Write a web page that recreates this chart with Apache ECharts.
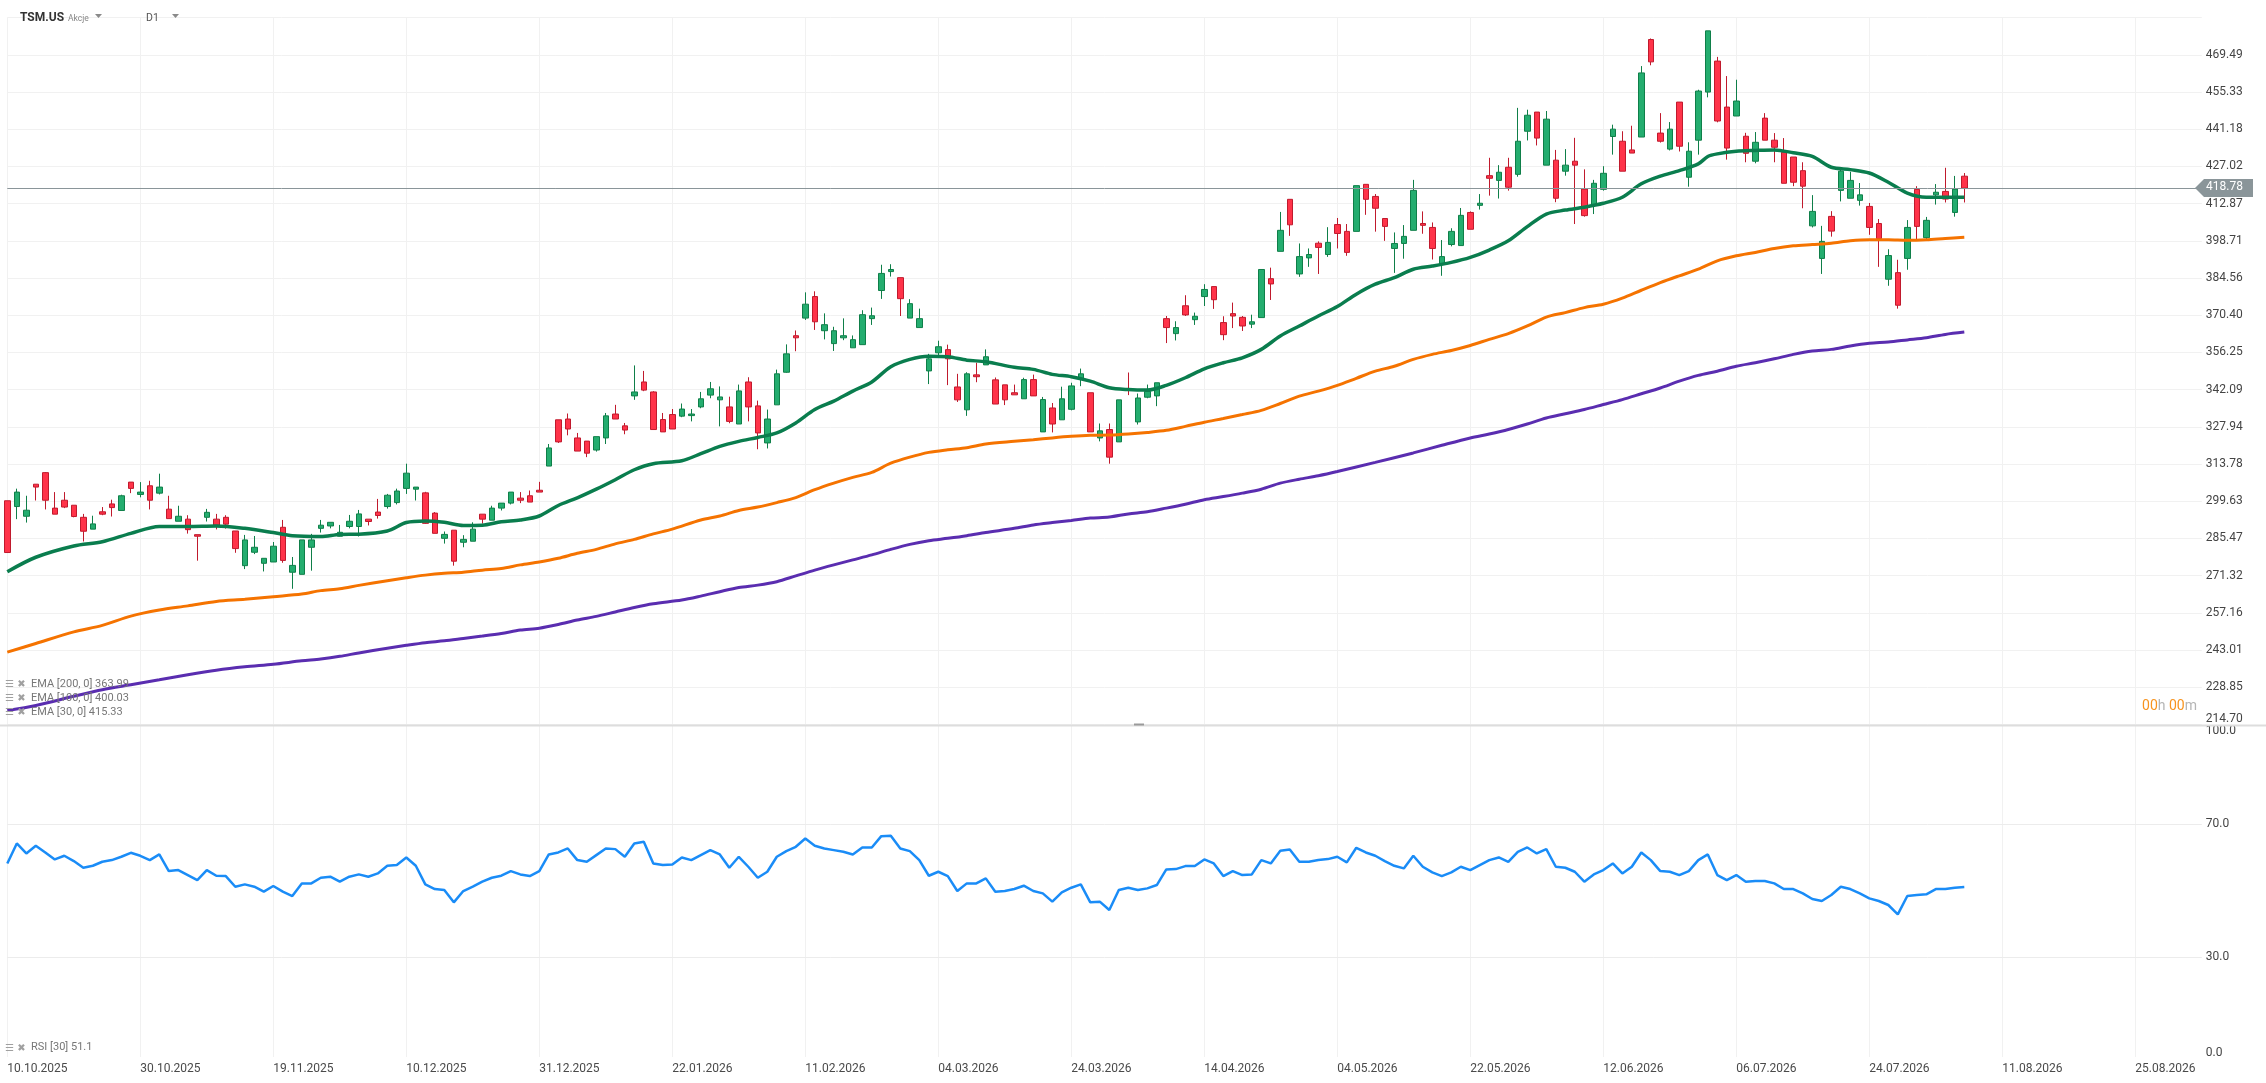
<!DOCTYPE html>
<html>
<head>
<meta charset="utf-8">
<script src="https://cdn.jsdelivr.net/npm/echarts@6/dist/echarts.min.js"></script>
<style>
  html, body { margin: 0; padding: 0; background: #fff; }
  #main { width: 2266px; height: 1083px; }
</style>
</head>
<body>
<div id="main"></div>
<script>
// date labels, one every 14 trading slots
var tickLabels = ['10.10.2025','30.10.2025','19.11.2025','10.12.2025','31.12.2025','22.01.2026','11.02.2026',
  '04.03.2026','24.03.2026','14.04.2026','04.05.2026','22.05.2026','12.06.2026','06.07.2026','24.07.2026',
  '11.08.2026','25.08.2026'];
var priceTicks = ['214.70','228.85','243.01','257.16','271.32','285.47','299.63','313.78','327.94','342.09',
  '356.25','370.40','384.56','398.71','412.87','427.02','441.18','455.33','469.49'];
var rsiLevels = [0, 30, 70, 100];
var rsiLabels = ['0.0', '30.0', '70.0', '100.0'];

var opens = [299.8,297.6,293.9,306.1,310.5,297.0,300.0,298.1,293.5,289.0,295.6,298.6,296.1,306.9,302.2,305.5,302.7,296.6,292.0,292.8,
  286.9,293.5,292.8,293.5,288.3,275.1,280.2,276.0,276.5,289.7,272.6,271.8,282.1,289.3,290.2,286.3,290.0,290.0,292.8,295.5,
  297.6,299.1,304.5,304.2,302.8,295.1,285.5,288.6,284.0,284.4,294.7,292.4,297.0,298.9,300.8,301.7,303.8,313.0,330.6,330.9,
  323.7,322.5,319.1,323.7,332.8,328.3,339.7,345.0,341.2,330.7,332.6,332.0,332.2,335.5,340.0,338.2,335.5,329.0,345.0,335.9,
  321.8,336.3,348.7,362.6,369.3,377.5,364.5,359.6,361.8,358.0,359.2,369.1,379.8,387.0,384.7,369.3,365.7,349.2,356.1,357.3,
  343.1,334.4,347.7,351.5,345.8,343.9,340.9,338.6,345.9,326.0,335.1,330.6,334.6,346.3,340.9,323.7,326.9,322.2,342.4,329.8,
  339.2,339.7,369.1,363.4,374.0,368.7,377.5,381.3,367.6,371.0,369.6,367.0,369.5,384.3,394.7,414.5,386.1,392.2,397.8,393.5,
  404.9,402.3,402.3,420.2,415.6,407.2,395.8,397.7,402.7,405.3,403.8,389.8,397.3,396.9,409.5,412.2,423.5,421.7,426.7,424.0,
  440.4,447.7,427.5,429.4,425.2,429.0,418.4,412.3,418.3,438.4,436.6,433.3,438.2,475.3,439.7,433.6,451.5,422.9,437.0,455.3,
  467.1,449.6,446.2,438.5,429.0,445.4,437.0,432.4,430.6,425.4,404.4,392.0,408.0,417.9,414.9,414.1,411.8,405.3,384.1,386.6,
  392.0,418.3,399.9,416.2,417.5,409.5,423.3];
var closes = [280.1,303.1,296.2,305.0,300.0,294.7,297.4,293.8,288.2,291.0,294.7,297.2,301.7,304.5,303.1,300.0,305.0,293.0,293.9,288.8,
  286.3,295.4,290.5,290.9,281.6,284.9,282.1,277.9,282.5,277.1,275.2,284.9,284.9,290.5,291.6,287.8,292.0,294.8,291.9,294.2,
  301.9,303.5,310.3,305.0,291.2,287.4,287.0,276.8,285.1,289.0,292.8,297.0,298.9,303.1,300.0,299.3,303.1,319.9,322.2,327.1,
  318.7,317.9,324.2,332.1,330.9,326.7,341.2,341.9,326.9,326.0,327.1,334.7,332.8,338.6,342.4,339.3,330.0,341.6,335.5,325.6,
  330.9,348.1,355.7,361.8,374.6,367.9,366.8,364.5,362.6,361.1,370.6,370.2,386.3,387.8,376.7,374.8,369.1,353.8,358.4,353.8,
  338.2,348.1,347.0,354.6,336.6,338.2,340.1,345.9,339.7,338.3,329.0,338.6,343.5,348.1,326.0,326.4,316.4,338.2,341.9,338.9,
  341.4,344.7,365.7,365.7,370.5,370.0,380.2,376.3,363.0,370.1,366.3,367.9,387.8,382.3,402.7,404.8,392.7,393.5,396.2,398.1,
  401.5,394.3,419.7,414.5,411.1,404.2,397.7,400.4,417.9,404.6,395.8,392.7,402.3,408.4,403.1,413.0,422.5,424.8,419.1,436.6,
  446.5,437.8,445.0,414.9,427.5,427.5,408.3,420.6,424.4,441.2,425.2,432.1,462.6,466.8,436.6,441.2,434.7,432.8,455.7,478.6,
  444.3,434.0,451.9,432.0,436.2,437.0,434.3,420.6,421.0,419.5,409.9,398.5,402.4,425.2,421.7,416.2,403.8,399.5,393.1,374.2,
  403.8,404.2,406.5,417.2,414.6,418.4,418.78];
var lows = [280.1,292.8,291.5,299.9,296.5,294.7,297.0,293.5,284.3,289.0,294.3,293.8,296.1,302.7,301.1,296.5,302.2,293.0,292.0,287.3,
  277.0,291.9,288.9,289.2,280.0,273.8,279.5,272.9,276.5,276.2,266.3,271.8,273.2,287.7,289.3,286.2,289.3,286.2,290.4,293.0,
  296.8,298.4,302.4,299.9,291.0,287.4,283.5,275.1,282.1,284.4,291.1,292.4,296.1,298.4,298.9,299.3,303.1,313.0,321.8,324.7,
  318.7,316.4,318.5,321.4,330.9,325.1,338.2,341.5,326.9,326.0,327.1,331.6,330.0,335.0,338.8,328.1,329.3,329.0,330.0,319.4,
  319.7,336.3,348.5,356.7,368.6,364.8,361.2,356.8,360.9,358.0,359.2,366.7,376.6,385.1,370.1,369.3,365.7,344.2,354.8,343.8,
  337.4,332.1,344.9,351.5,336.6,336.2,340.1,338.6,339.7,326.0,325.8,330.6,334.2,343.4,326.0,322.4,313.9,322.2,340.0,328.8,
  338.8,335.8,359.8,360.8,370.1,366.7,373.9,372.8,360.9,365.5,364.4,365.5,369.5,376.2,394.7,400.6,385.0,388.8,386.1,392.6,
  395.8,393.0,402.3,408.6,402.2,398.7,386.5,391.9,402.7,401.4,391.6,385.4,396.6,396.9,403.1,410.6,415.9,414.8,417.8,423.1,
  436.9,435.0,427.5,413.4,423.5,405.1,407.9,408.9,417.8,431.5,425.2,432.1,438.2,465.5,436.1,433.1,432.7,419.3,431.5,453.3,
  443.8,429.6,446.2,428.6,428.2,437.0,428.6,420.6,419.5,411.1,403.8,386.1,400.3,413.7,414.9,412.1,401.0,388.8,381.6,372.9,
  387.7,399.1,399.1,412.5,413.3,407.9,413.3];
var highs = [299.8,304.4,301.7,306.1,310.7,303.1,303.1,298.1,294.8,294.1,297.4,300.2,302.1,306.9,306.9,307.4,310.1,301.7,297.9,294.3,
  286.9,296.7,294.8,294.3,288.3,286.8,286.4,277.9,284.1,292.5,278.4,284.9,287.2,292.5,291.6,290.6,294.4,296.3,292.8,300.5,
  302.4,304.4,313.9,305.0,303.2,295.5,288.1,288.6,286.7,291.6,294.7,297.9,298.9,303.1,303.1,303.7,307.0,321.4,330.6,333.0,
  325.6,322.5,324.2,333.2,336.3,329.4,351.3,349.2,341.5,333.2,334.7,336.8,334.7,341.2,345.0,343.3,339.4,344.0,346.8,337.9,
  334.5,349.7,359.3,364.6,379.1,379.5,371.1,366.0,369.2,362.7,372.3,373.3,389.6,389.8,384.7,376.5,372.9,355.7,360.7,359.2,
  348.1,348.7,352.3,357.4,346.7,343.9,344.0,346.6,347.8,339.3,337.0,343.2,344.7,350.1,340.9,329.2,329.2,338.2,348.6,340.6,
  344.0,344.7,370.1,368.1,378.0,371.4,382.2,381.3,370.0,375.2,370.1,370.6,387.8,388.5,409.7,414.5,397.7,395.8,398.5,403.9,
  407.4,405.1,419.7,420.2,416.5,407.2,401.9,404.7,421.9,409.9,405.7,399.0,403.5,411.2,409.9,416.5,430.3,427.5,430.3,449.3,
  448.6,447.7,448.1,433.3,433.6,437.9,425.9,421.9,427.1,442.9,440.4,442.5,465.2,475.7,447.3,443.9,451.5,436.2,456.2,478.6,
  468.7,461.4,460.0,439.8,440.1,447.3,439.7,437.8,430.6,428.6,416.1,404.4,410.0,425.7,425.0,420.7,413.1,407.0,395.5,391.5,
  406.6,419.5,407.8,420.3,426.5,423.4,424.5];

// EMA values read at [slot, value]
var ema30 = [[0,272.8],[3,278.3],[7,282.6],[10,284.2],[13,287.4],[16,290.0],[19,290.0],[22,290.2],[25,289.3],[28,287.7],
  [30,286.5],[33,286.2],[35,287.0],[37,287.1],[40,288.3],[42,291.5],[44,292.1],[46,291.6],[48,290.4],[50,290.5],
  [52,291.8],[54,292.5],[56,294.0],[58,298.0],[60,300.9],[62,304.2],[64,307.8],[66,311.6],[68,313.9],[71,315.0],
  [73,317.7],[75,320.5],[77,322.4],[79,323.9],[81,325.6],[83,329.4],[85,334.5],[87,337.7],[89,341.5],[91,345.0],
  [93,350.8],[95,353.6],[97,354.8],[99,354.6],[101,353.3],[103,352.7],[106,350.6],[108,349.8],[110,347.9],[112,347.0],
  [114,345.3],[116,342.8],[118,342.1],[120,341.9],[122,343.7],[124,346.6],[126,350.0],[128,352.3],[130,354.2],[132,357.4],
  [134,362.5],[136,366.3],[138,370.1],[140,373.7],[142,378.4],[144,382.2],[146,384.7],[148,387.9],[150,389.1],[152,390.5],
  [154,392.4],[156,395.2],[158,398.7],[160,404.1],[162,408.9],[164,410.4],[166,411.5],[168,413.0],[170,415.3],[172,420.4],
  [174,423.3],[176,425.4],[178,428.0],[179,430.8],[180,431.8],[182,432.8],[184,433.1],[186,433.3],[188,432.2],[190,430.8],
  [192,426.7],[194,425.8],[196,424.5],[198,421.0],[200,416.9],[202,415.3],[204,415.3],[206,415.33]];
var ema100 = [[0,242.2],[3,245.5],[7,249.9],[10,252.4],[13,255.9],[16,258.2],[19,259.8],[22,261.5],[25,262.3],[28,263.3],
  [31,264.3],[33,265.6],[35,266.3],[37,267.6],[40,269.4],[42,270.5],[44,271.5],[46,272.2],[48,272.6],[50,273.4],
  [52,274.0],[54,275.4],[56,276.5],[58,277.9],[60,279.8],[62,281.3],[64,283.4],[66,285.1],[68,287.2],[70,289.0],
  [73,292.5],[75,294.0],[77,296.1],[79,297.4],[81,299.1],[83,301.0],[85,304.0],[87,306.5],[89,308.7],[91,310.6],
  [93,314.1],[95,316.4],[97,318.2],[99,319.2],[101,320.0],[103,321.4],[106,322.4],[108,323.0],[110,323.7],[112,324.3],
  [114,324.7],[116,324.8],[118,325.2],[120,325.8],[122,326.6],[124,328.1],[126,329.7],[128,331.1],[130,332.6],[132,334.2],
  [134,336.8],[136,339.6],[138,341.5],[140,343.7],[142,346.4],[144,349.1],[146,351.0],[148,353.6],[150,355.5],[152,357.0],
  [154,358.9],[156,361.2],[158,363.4],[160,366.3],[162,369.7],[164,371.4],[166,373.3],[168,374.6],[170,376.9],[172,379.9],
  [174,382.8],[176,385.4],[178,387.9],[180,391.1],[182,393.0],[184,394.3],[186,395.8],[188,396.8],[190,397.3],[192,397.8],
  [194,398.7],[196,399.1],[198,399.1],[200,398.9],[202,399.1],[204,399.6],[206,400.03]];
var ema200 = [[0,220.0],[3,221.9],[7,225.4],[10,227.9],[13,229.8],[16,231.7],[19,233.6],[22,235.3],[25,236.6],[28,237.6],
  [31,238.9],[33,239.6],[35,240.6],[37,241.9],[40,243.7],[42,244.8],[44,245.8],[46,246.5],[48,247.4],[50,248.3],
  [52,249.3],[54,250.6],[56,251.3],[58,252.7],[60,254.4],[62,255.8],[64,257.5],[66,259.2],[68,260.6],[71,262.0],
  [73,263.5],[75,265.2],[77,266.8],[79,267.7],[81,269.0],[83,271.2],[85,273.4],[87,275.4],[89,277.3],[91,279.2],
  [93,281.3],[95,283.2],[97,284.6],[99,285.5],[101,286.5],[103,287.7],[106,289.3],[108,290.6],[110,291.5],[112,292.3],
  [114,293.2],[116,293.6],[118,294.8],[120,295.6],[122,297.0],[124,298.5],[126,300.2],[128,301.4],[130,302.7],[132,304.2],
  [134,306.5],[136,308.0],[138,309.3],[140,310.9],[144,314.4],[148,318.0],[151,320.9],[154,323.7],[156,325.2],[158,326.9],
  [160,329.0],[162,331.3],[164,332.9],[166,334.5],[168,336.4],[170,338.3],[172,340.5],[174,342.7],[176,345.3],[178,347.5],
  [180,349.1],[182,351.0],[184,352.3],[186,353.8],[188,355.5],[190,356.8],[192,357.4],[194,358.7],[196,359.7],[198,360.2],
  [200,361.0],[202,361.8],[204,363.1],[206,363.99]];

var rsi = [58.2,64.2,61.2,63.5,61.5,59.4,60.5,58.9,56.9,57.5,58.7,59.2,60.2,61.4,60.5,59.2,60.9,55.9,56.2,54.7,
  53.2,56.2,54.5,54.4,51.2,51.9,51.2,49.7,51.4,49.7,48.4,52.2,52.2,53.9,54.2,52.7,54.2,54.9,54.2,55.2,
  57.5,57.7,60.0,57.5,51.9,50.5,50.2,46.5,49.9,51.2,52.7,53.9,54.5,55.9,54.9,54.4,55.9,60.9,61.5,62.7,
  59.2,58.7,60.7,62.7,62.5,60.2,64.2,64.7,58.2,57.7,57.9,60.0,59.2,60.7,62.2,60.9,56.9,60.2,57.2,53.9,
  55.7,60.2,61.9,63.2,65.7,63.5,62.7,62.2,61.7,60.9,63.0,63.0,66.4,66.5,62.7,61.9,59.2,54.5,55.7,54.4,
  49.9,52.2,52.2,53.7,49.7,49.9,50.5,51.5,49.9,49.2,46.7,49.5,50.9,51.9,46.5,46.7,44.2,50.2,50.9,50.2,
  50.7,51.7,56.4,56.5,57.4,57.4,59.4,58.2,54.4,55.9,54.7,54.9,59.2,58.2,62.0,62.4,58.7,58.7,59.2,59.5,
  60.2,58.5,62.9,61.5,60.5,58.9,57.5,56.7,60.5,57.2,55.5,54.4,55.5,57.2,56.2,57.7,59.2,60.0,58.7,61.7,
  63.0,61.2,62.5,57.2,56.9,55.7,52.7,54.9,56.2,58.2,55.2,57.2,61.5,59.2,55.9,55.7,54.7,55.9,59.2,60.9,
  54.7,53.2,54.7,52.7,52.9,52.9,52.2,50.5,50.5,49.2,47.5,46.9,48.7,51.2,50.5,49.2,47.7,46.9,45.7,42.9,
  48.4,48.7,48.9,50.5,50.5,50.9,51.1];

var SLOTS = 232;
var PRICE_MIN = 214.70, PRICE_STEP = 14.155;

var cats = [];
for (var i = 0; i < SLOTS; i++) cats.push(String(i));

var candles = opens.map(function (o, i) {
  return [o, closes[i], lows[i], highs[i]];
});
var lastClose = closes[closes.length - 1];

var font = 'Roboto, "Noto Sans", sans-serif';
var gridColor = '#f1f1f1';

function xAxisFor(gridIndex, showLabels) {
  return {
    type: 'category', gridIndex: gridIndex, data: cats, boundaryGap: false,
    axisLine: {show: false}, axisTick: {show: false},
    splitLine: {show: true, interval: 13, lineStyle: {color: gridColor, width: 1}},
    axisLabel: {
      show: showLabels, interval: 13, align: 'left', margin: 6,
      color: '#4a4a4a', fontSize: 12, fontFamily: font,
      formatter: function (v, idx) { return tickLabels[idx / 14] || ''; }
    }
  };
}

var myChart = echarts.init(document.getElementById('main'), null, {width: 2266, height: 1083});

var option = {
  animation: false,
  backgroundColor: '#ffffff',
  textStyle: {fontFamily: font},
  grid: [
    {left: 7.3, right: 64.2, top: 17.6, height: 706.8},
    {left: 7.3, right: 64.2, top: 724.4, height: 332.6}
  ],
  xAxis: [xAxisFor(0, false), xAxisFor(1, true)],
  yAxis: [{
    type: 'value', gridIndex: 0, position: 'right',
    min: PRICE_MIN, max: PRICE_MIN + 19 * PRICE_STEP, interval: PRICE_STEP,
    axisLine: {show: false}, axisTick: {show: false},
    splitLine: {lineStyle: {color: gridColor, width: 1}},
    axisLabel: {
      showMaxLabel: false, showMinLabel: true, hideOverlap: false,
      margin: 4, color: '#444', fontSize: 12, fontFamily: font,
      formatter: function (v) {
        var k = Math.round((v - PRICE_MIN) / PRICE_STEP);
        if (k === 0) return '{lo|' + priceTicks[0] + '}';
        return priceTicks[k] || '';
      },
      rich: {lo: {padding: [0, 0, 10, 0], color: '#444', fontSize: 12, fontFamily: font}}
    }
  }, {
    type: 'value', gridIndex: 1, position: 'right',
    min: 0, max: 100, interval: 10,
    axisLine: {show: false}, axisTick: {show: false}, splitLine: {show: false},
    axisLabel: {
      margin: 4, color: '#444', fontSize: 12, fontFamily: font,
      formatter: function (v) {
        var k = rsiLevels.indexOf(Math.round(v));
        if (k < 0) return '';
        if (k === 0) return '{lo|' + rsiLabels[k] + '}';
        if (k === rsiLevels.length - 1) return '{hi|' + rsiLabels[k] + '}';
        return rsiLabels[k];
      },
      rich: {
        lo: {padding: [0, 0, 9, 0], color: '#444', fontSize: 12, fontFamily: font},
        hi: {padding: [13, 0, 0, 0], color: '#444', fontSize: 12, fontFamily: font}
      }
    }
  }],
  series: [{
    name: 'TSM.US', type: 'candlestick', xAxisIndex: 0, yAxisIndex: 0,
    data: candles, barWidth: 6, clip: false, z: 3,
    itemStyle: {
      color: '#24ad6f', color0: '#ff3349',
      borderColor: '#0f7f49', borderColor0: '#c01a2d', borderWidth: 1
    },
    markLine: {
      silent: true, symbol: ['none', 'none'],
      label: {show: false},
      lineStyle: {color: '#8a9599', width: 1, type: 'solid'},
      data: [{yAxis: lastClose}]
    }
  }, {
    name: 'EMA 200', type: 'line', xAxisIndex: 0, yAxisIndex: 0, data: ema200,
    showSymbol: false, smooth: 0.3, z: 4,
    lineStyle: {color: '#5a2db0', width: 3}
  }, {
    name: 'EMA 100', type: 'line', xAxisIndex: 0, yAxisIndex: 0, data: ema100,
    showSymbol: false, smooth: 0.3, z: 4,
    lineStyle: {color: '#f57300', width: 3}
  }, {
    name: 'EMA 30', type: 'line', xAxisIndex: 0, yAxisIndex: 0, data: ema30,
    showSymbol: false, smooth: 0.3, z: 4,
    lineStyle: {color: '#0a7d4e', width: 3.5}
  }, {
    name: 'RSI', type: 'line', xAxisIndex: 1, yAxisIndex: 1, data: rsi,
    showSymbol: false, z: 4,
    lineStyle: {color: '#1a8cf7', width: 2.5},
    markLine: {
      silent: true, symbol: ['none', 'none'], label: {show: false},
      lineStyle: {color: '#ececec', width: 1, type: 'solid'},
      data: [{yAxis: 30}, {yAxis: 70}]
    }
  }]
};

myChart.setOption(option);

// header, legends, price tag
var lastY = myChart.convertToPixel({yAxisIndex: 0}, lastClose);
var legendStyle = {fill: '#777', fontSize: 11, fontFamily: font};
var iconStyle = {fill: '#a0a0a0', fontSize: 10, fontFamily: '"DejaVu Sans"'};
function legendRow(y, text) {
  return [
    {type: 'text', left: 5, top: y - 6, z: 20, style: Object.assign({text: '☰ ✖'}, iconStyle)},
    {type: 'text', left: 31, top: y - 7, z: 20, style: Object.assign({text: text}, legendStyle)}
  ];
}
var last = function (arr) { return arr[arr.length - 1][1].toFixed(2); };

var graphics = [
  {type: 'text', left: 20, top: 12, style: {text: 'TSM.US', fill: '#333', fontSize: 12, fontWeight: 'bold', fontFamily: font}},
  {type: 'text', left: 68, top: 14, style: {text: 'Akcje', fill: '#888', fontSize: 8.5, fontFamily: font}},
  {type: 'polygon', shape: {points: [[95, 14], [102, 14], [98.5, 18]]}, style: {fill: '#8a8a8a'}},
  {type: 'text', left: 146, top: 13, style: {text: 'D1', fill: '#555', fontSize: 10.5, fontFamily: font}},
  {type: 'polygon', shape: {points: [[172, 14], [179, 14], [175.5, 18]]}, style: {fill: '#8a8a8a'}},
  {type: 'rect', shape: {x: 0, y: 724.5, width: 2266, height: 2}, style: {fill: '#dddddd'}, z: 10},
  {type: 'rect', shape: {x: 1134, y: 723.5, width: 10, height: 2}, style: {fill: '#9a9a9a'}, z: 11},
  {type: 'text', right: 2266 - 2197, top: 699, z: 20, style: {
    text: '{o|00}{g|h }{o|00}{g|m}', fontFamily: font,
    rich: {o: {fill: '#f7931e', fontSize: 14, fontFamily: font}, g: {fill: '#b5b5b5', fontSize: 14, fontFamily: font}}
  }},
  {type: 'polygon', z: 20, shape: {points: [[2195, lastY], [2204, lastY - 9], [2253, lastY - 9], [2253, lastY + 9], [2204, lastY + 9]]},
    style: {fill: '#8a9599'}},
  {type: 'text', left: 2206, top: lastY - 7, z: 21, style: {text: lastClose.toFixed(2), fill: '#fff', fontSize: 12, fontFamily: font}}
];
graphics = graphics
  .concat(legendRow(685.5, 'EMA [200, 0] ' + last(ema200)))
  .concat(legendRow(699.5, 'EMA [100, 0] ' + last(ema100)))
  .concat(legendRow(713.5, 'EMA [30, 0] ' + last(ema30)))
  .concat(legendRow(1049, 'RSI [30] ' + rsi[rsi.length - 1].toFixed(1)));

myChart.setOption({graphic: graphics});
</script>
</body>
</html>
